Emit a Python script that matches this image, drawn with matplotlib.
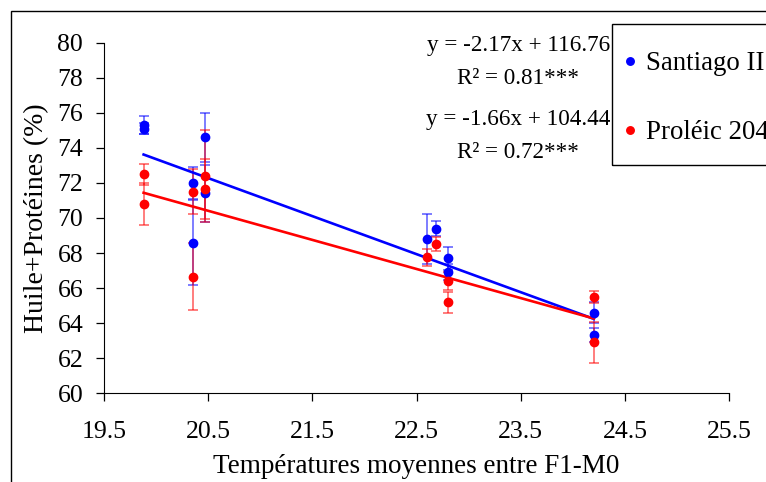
import numpy as np
import matplotlib
matplotlib.use("Agg")
from matplotlib import pyplot as plt
from matplotlib.patches import Rectangle

plt.rcParams['font.family'] = ['Liberation Serif', 'DejaVu Serif']

# temperatures moyennes F1-M0
temp = [19.88, 19.88, 20.35, 20.35, 20.47, 20.47, 22.60, 22.69, 22.80, 22.80, 24.20, 24.20]

santiago = [75.3, 75.1, 72.0, 68.6, 74.6, 71.4, 68.8, 69.4, 67.7, 66.9, 64.6, 63.3]
santiago_err = [0.5, 0.3, 0.9, 2.4, 1.4, 1.6, 1.4, 0.45, 0.65, 0.45, 0.6, 0.4]

proleic = [72.5, 70.8, 71.5, 66.65, 72.4, 71.65, 67.75, 68.5, 66.4, 65.2, 65.5, 62.9]
proleic_err = [0.6, 1.2, 1.3, 1.9, 2.6, 1.7, 0.5, 0.4, 0.5, 0.6, 0.35, 1.15]

# regressions (pente, ordonnee)
fit_santiago = (-2.17, 116.76)
fit_proleic = (-1.66, 104.44)

xticks = [19.5, 20.5, 21.5, 22.5, 23.5, 24.5, 25.5]
yticks = list(range(60, 81, 2))

W, H = 766, 482
fig = plt.figure(figsize=(W / 100, H / 100), dpi=100)
ax = fig.add_axes([104 / W, 1 - 393.3 / H, (729.3 - 104) / W, (393.3 - 42.7) / H])

blue = '#0000ff'
red = '#ff0000'

ax.errorbar(temp, santiago, yerr=santiago_err, fmt='none', ecolor=blue, alpha=0.55,
            elinewidth=1.3, capsize=3.5, capthick=1.3, zorder=2)
ax.errorbar(temp, proleic, yerr=proleic_err, fmt='none', ecolor=red, alpha=0.55,
            elinewidth=1.3, capsize=3.5, capthick=1.3, zorder=2)

xs = np.array([min(temp), max(temp)])
ax.plot(xs, fit_santiago[0] * xs + fit_santiago[1], color=blue, lw=1.9, zorder=3)
ax.plot(xs, fit_proleic[0] * xs + fit_proleic[1], color=red, lw=1.9, zorder=3)

ax.plot(temp, santiago, 'o', color=blue, ms=6, zorder=4, label='Santiago II')
ax.plot(temp, proleic, 'o', color=red, ms=6, zorder=5, label='Proléic 204')

ax.set_xlim(19.5, 25.5)
ax.set_ylim(60, 80)
ax.set_xticks(xticks)
ax.set_xticklabels([str(t) for t in xticks])
ax.set_yticks(yticks)
ax.spines['top'].set_visible(False)
ax.spines['right'].set_visible(False)
ax.tick_params(direction='out', length=6, width=0.9, labelsize=18.5)
ax.tick_params(axis='y', pad=9)
ax.tick_params(axis='x', pad=14)

ax.set_xlabel('Températures moyennes entre F1-M0', fontsize=19.5, labelpad=8)
ax.set_ylabel('Huile+Protéines (%)', fontsize=20, labelpad=6)

# equations
fig.text(519 / W, 1 - 45 / H, 'y = -2.17x + 116.76', ha='center', va='center', fontsize=16.7)
fig.text(518 / W, 1 - 78 / H, 'R² = 0.81***', ha='center', va='center', fontsize=16.7)
fig.text(518 / W, 1 - 120 / H, 'y = -1.66x + 104.44', ha='center', va='center', fontsize=16.7)
fig.text(518 / W, 1 - 153 / H, 'R² = 0.72***', ha='center', va='center', fontsize=16.7)

# legende (cadre dessine a part)
leg = fig.legend(loc='upper left', bbox_to_anchor=(615 / W, 1 - 40.5 / H),
                 fontsize=19.4, frameon=False,
                 borderpad=0.4, labelspacing=1.64, handlelength=0.3, handletextpad=0.45,
                 markerscale=0.9, borderaxespad=0)
fig.patches.append(Rectangle((611.7 / W, 1 - 165 / H), 0.5, (165 - 24.3) / H,
                             transform=fig.transFigure, fill=False, edgecolor='black', lw=1.0))

# cadre exterieur
fig.patches.append(Rectangle((10.5 / W, -0.1), 1.2, 1 - 10.5 / H + 0.1,
                             transform=fig.transFigure, fill=False, edgecolor='black', lw=1.0))

fig.savefig('out.png', dpi=100)
